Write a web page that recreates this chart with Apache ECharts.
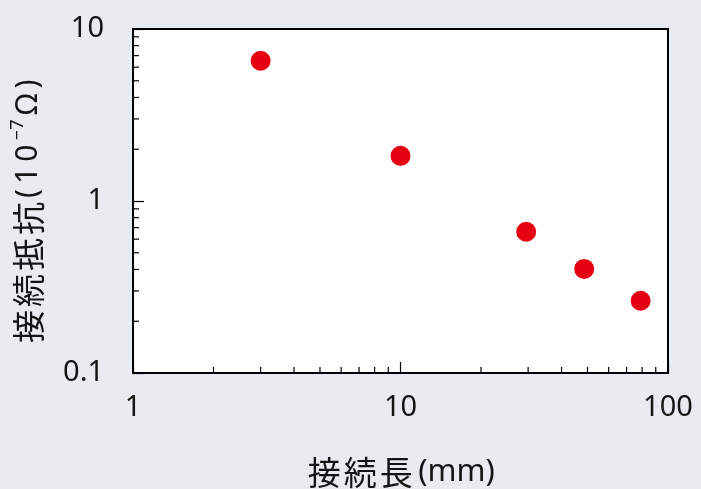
<!DOCTYPE html>
<html>
<head>
<meta charset="utf-8">
<script src="https://cdn.jsdelivr.net/npm/echarts@6/dist/echarts.min.js"></script>
<style>
  html, body { margin: 0; padding: 0; background: #e8ecf1; }
  #chart { width: 701px; height: 489px; }
</style>
</head>
<body>
<div id="chart"></div>
<script>
// Contact length (mm) vs. contact resistance (x10^-7 ohm)
const lengthMm = [3.0, 10, 29.5, 48.6, 79];
const resistance = [6.54, 1.83, 0.663, 0.403, 0.263];

const xTickLabels = ['1', '10', '100'];
const yTickLabels = ['0.1', '1', '10'];

const xMinorTicks = [2, 3, 4, 5, 6, 7, 8, 9, 20, 30, 40, 50, 60, 70, 80, 90];
const yMinorTicks = [0.2, 0.3, 0.4, 0.5, 0.6, 0.7, 0.8, 0.9, 2, 3, 4, 5, 6, 7, 8, 9];

const FONT = '"Noto Sans", "Noto Sans CJK JP", sans-serif';
const CJK = '"Noto Sans CJK JP", sans-serif';
const INK = '#141414';
const points = lengthMm.map((x, i) => [x, resistance[i]]);

// Axis titles are built from separate tokens so the glyphs get a little tracking.
function spaced(text, style) {
  return Array.from(text).map(ch => '{' + style + '|' + ch + '}').join('');
}
const xTitle = spaced('接続長', 'c') + '{t|(mm)}';
const yTitle = spaced('接続抵抗', 'c') + spaced('(10', 'd') + '{sup|−7}{d|Ω}{end|)}';

const titleRich = {
  c: { fontFamily: CJK, fontSize: 33, color: INK, padding: [0, 1.5, 0, 1.5], lineHeight: 38 },
  d: { fontFamily: FONT, fontSize: 30, color: INK, padding: [0, 2.5, 0, 2.5], lineHeight: 38 },
  end: { fontFamily: FONT, fontSize: 30, color: INK, padding: [0, 22, 0, 2.5], lineHeight: 38 },
  t: { fontFamily: FONT, fontSize: 31, color: INK, padding: [0, 0, 0, 4], lineHeight: 38 },
  sup: { fontFamily: FONT, fontSize: 18, color: INK, verticalAlign: 'top', lineHeight: 38, padding: [0, 2, 12, 2] }
};

const chart = echarts.init(document.getElementById('chart'), null, { renderer: 'canvas' });

chart.setOption({
  backgroundColor: '#e8ecf1',
  animation: false,
  grid: {
    left: 133, top: 29, right: 33, bottom: 116,
    containLabel: false, outerBoundsMode: 'none',
    show: true, backgroundColor: '#ffffff', borderColor: '#000', borderWidth: 2
  },
  xAxis: {
    type: 'log', logBase: 10, min: 1, max: 100,
    name: xTitle, nameLocation: 'middle', nameGap: 80,
    nameTextStyle: { fontFamily: FONT, fontSize: 30, color: INK, rich: titleRich },
    axisLine: { show: true, lineStyle: { color: '#000', width: 2 } },
    axisTick: { show: true, inside: true, length: 11, lineStyle: { color: '#000', width: 1.2 } },
    splitLine: { show: false },
    axisLabel: {
      fontFamily: FONT, fontSize: 29, color: INK, margin: 20,
      formatter: function (v) {
        const i = Math.round(Math.log10(v));
        return xTickLabels[i] !== undefined ? xTickLabels[i] : '';
      }
    }
  },
  yAxis: {
    type: 'log', logBase: 10, min: 0.1, max: 10,
    name: yTitle, nameLocation: 'middle', nameGap: 86, nameRotate: 90,
    nameTextStyle: { fontFamily: FONT, fontSize: 30, color: INK, rich: titleRich },
    axisLine: { show: true, lineStyle: { color: '#000', width: 2 } },
    axisTick: { show: true, inside: true, length: 11, lineStyle: { color: '#000', width: 1.2 } },
    splitLine: { show: false },
    axisLabel: {
      fontFamily: FONT, fontSize: 29, color: INK, margin: 29,
      formatter: function (v) {
        const i = Math.round(Math.log10(v)) + 1;
        return yTickLabels[i] !== undefined ? yTickLabels[i] : '';
      }
    }
  },
  series: [
    {
      // minor ticks along the bottom axis
      type: 'custom', data: xMinorTicks.map(v => [v, 0.1]), silent: true, clip: false, z: 1,
      renderItem: function (params, api) {
        const p = api.coord([api.value(0), 0.1]);
        return { type: 'line', shape: { x1: p[0], y1: p[1], x2: p[0], y2: p[1] - 6 },
                 style: { stroke: '#000', lineWidth: 1.2 } };
      }
    },
    {
      // minor ticks along the left axis
      type: 'custom', data: yMinorTicks.map(v => [1, v]), silent: true, clip: false, z: 1,
      renderItem: function (params, api) {
        const p = api.coord([1, api.value(1)]);
        return { type: 'line', shape: { x1: p[0], y1: p[1], x2: p[0] + 6, y2: p[1] },
                 style: { stroke: '#000', lineWidth: 1.2 } };
      }
    },
    {
      type: 'scatter', data: points, symbol: 'circle', symbolSize: 20,
      itemStyle: { color: '#e60012', opacity: 1 }, z: 3
    }
  ]
});
</script>
</body>
</html>
